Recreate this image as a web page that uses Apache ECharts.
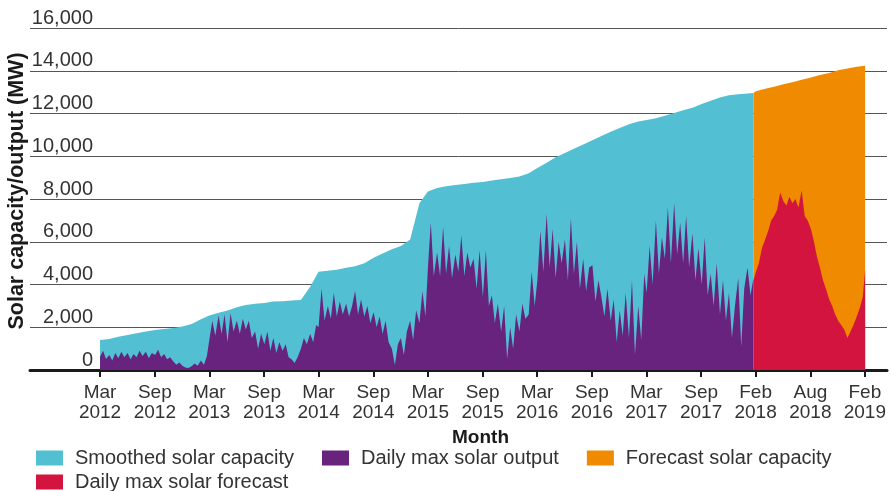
<!DOCTYPE html>
<html>
<head>
<meta charset="utf-8">
<script src="https://cdn.jsdelivr.net/npm/echarts@6/dist/echarts.min.js"></script>
<style>
    html, body {margin: 0; padding: 0; background: #fff}
    #main {width: 891px; height: 491px}
</style>
</head>
<body>
<div id="main"></div>
<script>
    // x axis ticks sit every half year (182.5 days) from Mar 2012
    var tickDates = ['2012-03-01', '2012-08-31', '2013-03-01', '2013-08-31', '2014-03-01', '2014-08-31',
        '2015-03-01', '2015-08-31', '2016-02-29', '2016-08-30', '2017-02-28', '2017-08-30',
        '2018-02-28', '2018-08-30', '2019-02-28'];
    var tickLabels = ['Mar\n2012', 'Sep\n2012', 'Mar\n2013', 'Sep\n2013', 'Mar\n2014', 'Sep\n2014',
        'Mar\n2015', 'Sep\n2015', 'Mar\n2016', 'Sep\n2016', 'Mar\n2017', 'Sep\n2017',
        'Feb\n2018', 'Aug\n2018', 'Feb\n2019'];

    var seamDate = '2018-02-21';   // where history ends and forecast begins
    var forecastEnd = '2019-03-01';

    // smoothed capacity, 1st of each month Mar 2012 .. Feb 2018, then the seam
    var capacity = [
        1400, 1450, 1550, 1640, 1720, 1800, 1870, 1920, 1960, 2030,
        2150, 2380, 2550, 2680, 2780, 2930, 3040, 3100, 3130, 3200, 3220, 3250,
        3270, 3900, 4600, 4640, 4690, 4780, 4850, 5000, 5250, 5450, 5650, 5800,
        6100, 7800, 8350, 8520, 8600, 8650, 8700, 8760, 8800, 8870, 8920, 8980,
        9050, 9200, 9450, 9700, 9950, 10150, 10350, 10550, 10750, 10950, 11150, 11320,
        11500, 11620, 11700, 11780, 11900, 12020, 12150, 12270, 12450, 12600, 12750, 12850,
        12900, 12940, 12960
    ];

    // daily max output, read on the 1st, 11th and 21st of each month
    var output2012 = [620, 900, 520, 700, 450, 800, 550, 850, 600, 800, 500, 750, 600, 900, 650,
        850, 550, 800, 700, 950, 600, 750, 500, 600, 400, 250, 350, 200, 120, 90];
    var output2013 = [180, 300, 200, 450, 250, 650, 1400, 2300, 1600, 2550, 1700, 2600,
        1300, 2650, 1800, 2300, 1700, 2400, 1900, 2300, 1500, 1800, 1000, 1700,
        1200, 1800, 900, 1500, 800, 1300, 900, 1200, 600, 500, 330, 600];
    var output2014 = [1000, 1500, 1200, 1700, 1300, 2100, 2000, 3800, 2300, 3000, 2400, 3600,
        2500, 3200, 2600, 3100, 2500, 3000, 3700, 2600, 3300, 2500, 3000, 2200,
        2700, 2000, 2500, 1700, 2300, 1300, 1000, 230, 1200, 1500, 700, 1800];
    var output2015 = [2300, 1400, 2800, 2200, 3700, 2500, 4700, 6900, 4400, 5500, 4400, 6700,
        4500, 5800, 4300, 5400, 4600, 6300, 4400, 5500, 4800, 5200, 3800, 5600,
        3400, 5600, 3000, 3500, 2200, 3100, 1800, 3000, 500, 2000, 1000, 2600];
    var output2016 = [1800, 3100, 2400, 2600, 4600, 3000, 4200, 6500, 4600, 7300, 4800, 6600,
        4300, 6000, 5000, 6100, 4200, 7100, 4500, 6000, 3800, 5200, 3700, 4800,
        4900, 3200, 4200, 3400, 2500, 3800, 2300, 3300, 1300, 2800, 1600, 3600];
    var output2017 = [1500, 4200, 700, 3000, 1400, 4500, 3600, 5800, 4000, 7000, 4500, 6200,
        5200, 7600, 5000, 7800, 5400, 6900, 5000, 7200, 4800, 6400, 4200, 5700,
        4000, 6200, 3500, 4500, 3000, 5000, 2600, 4200, 2300, 3600, 1500, 3000];
    var output2018 = [4300, 1100, 3800, 4800, 3500, 4300];

    // forecast capacity: seam, 1st of Mar 2018 .. Feb 2019, end
    var forecastCapacity = [12960, 13040, 13160, 13250, 13370, 13460, 13580, 13680,
        13800, 13890, 14020, 14110, 14190, 14230];
    // forecast daily max: seam, 1st/11th/21st of Mar 2018 .. Feb 2019, end
    var forecastOutput = [4200, 4600, 5000, 5700, 6100, 6500, 7000, 7200, 7500, 8300,
        7900, 7700, 8100, 7800, 8000, 7600, 8400, 7200, 7000, 6600, 6000, 5300,
        4800, 4200, 3800, 3300, 3000, 2600, 2300, 2100, 1900, 1500, 1800, 2100,
        2500, 2900, 3400, 4700];

    function ts(s) {
        var p = s.split('-');
        return Date.UTC(+p[0], +p[1] - 1, +p[2]);
    }

    function monthly(y, m, n, days) {
        var out = [];
        for (var i = 0; i < n; i++) {
            var yy = y + Math.floor((m - 1 + i) / 12), mm = (m - 1 + i) % 12;
            days.forEach(function (d) {
                out.push(Date.UTC(yy, mm, d));
            });
        }
        return out;
    }

    function zip(dates, values) {
        return values.map(function (v, i) {
            return [dates[i], v];
        });
    }

    var output = [].concat(output2012, output2013, output2014, output2015, output2016, output2017, output2018);
    var capacityDates = monthly(2012, 3, 72, [1]).concat([ts(seamDate)]);
    var outputDates = monthly(2012, 3, 72, [1, 11, 21]);
    var fcCapDates = [ts(seamDate)].concat(monthly(2018, 3, 12, [1]), [ts(forecastEnd)]);
    var fcOutDates = [ts(seamDate)].concat(monthly(2018, 3, 12, [1, 11, 21]), [ts(forecastEnd)]);

    var tickValues = tickDates.map(ts);
    var font = 'Liberation Sans, Arial, sans-serif';

    function area(name, color, data) {
        return {
            name: name, type: 'line', data: data, color: color,
            showSymbol: false, symbol: 'none', sampling: null,
            lineStyle: {width: 0}, areaStyle: {color: color, opacity: 1},
            itemStyle: {color: color}
        };
    }

    var legendText = {fontSize: 20, color: '#333', fontFamily: font, padding: [0, 0, 0, 7]};

    var chart = echarts.init(document.getElementById('main'));
    chart.setOption({
        animation: false,
        textStyle: {fontFamily: font},
        grid: {left: 30, right: 4, top: 28, bottom: 121, containLabel: false, outerBoundsMode: 'none'},
        legend: [{
            data: ['Smoothed solar capacity', 'Daily max solar output', 'Forecast solar capacity'],
            left: 31, top: 443, icon: 'rect', itemWidth: 27, itemHeight: 15, itemGap: 28,
            textStyle: legendText
        }, {
            data: ['Daily max solar forecast'],
            left: 31, top: 467, icon: 'rect', itemWidth: 27, itemHeight: 15,
            textStyle: legendText
        }],
        xAxis: {
            type: 'value',
            min: ts('2011-07-11'), max: ts('2019-05-13'),
            name: 'Month', nameLocation: 'middle', nameGap: 48,
            nameTextStyle: {fontSize: 19, fontWeight: 'bold', color: '#1a1a1a', padding: [0, 0, 0, 44]},
            axisLine: {lineStyle: {color: '#1a1a1a', width: 3}},
            axisTick: {customValues: tickValues, length: 7, lineStyle: {color: '#1a1a1a', width: 2}},
            axisLabel: {
                customValues: tickValues, margin: 13, fontSize: 19, lineHeight: 20, color: '#333',
                formatter: function (v) {
                    var i = tickValues.indexOf(v);
                    return i < 0 ? '' : tickLabels[i];
                }
            },
            splitLine: {show: false}
        },
        yAxis: {
            type: 'value', min: 0, max: 16000, interval: 2000,
            name: 'Solar capacity/output (MW)', nameLocation: 'middle', nameGap: 2,
            nameMoveOverlap: false,
            nameTextStyle: {fontSize: 21.5, fontWeight: 'bold', color: '#1a1a1a', padding: [0, 0, 0, 16]},
            axisLine: {show: false}, axisTick: {show: false},
            axisLabel: {
                inside: true, align: 'right', verticalAlign: 'bottom', margin: 63,
                fontSize: 20, color: '#333',
                formatter: function (v) {
                    return v.toLocaleString('en-US');
                }
            },
            splitLine: {lineStyle: {color: '#555', width: 1}}
        },
        series: [
            area('Smoothed solar capacity', '#52bfd3', zip(capacityDates, capacity)),
            area('Daily max solar output', '#68237f', zip(outputDates, output)),
            area('Forecast solar capacity', '#f08a00', zip(fcCapDates, forecastCapacity)),
            area('Daily max solar forecast', '#d2143e', zip(fcOutDates, forecastOutput))
        ]
    });
</script>
</body>
</html>
